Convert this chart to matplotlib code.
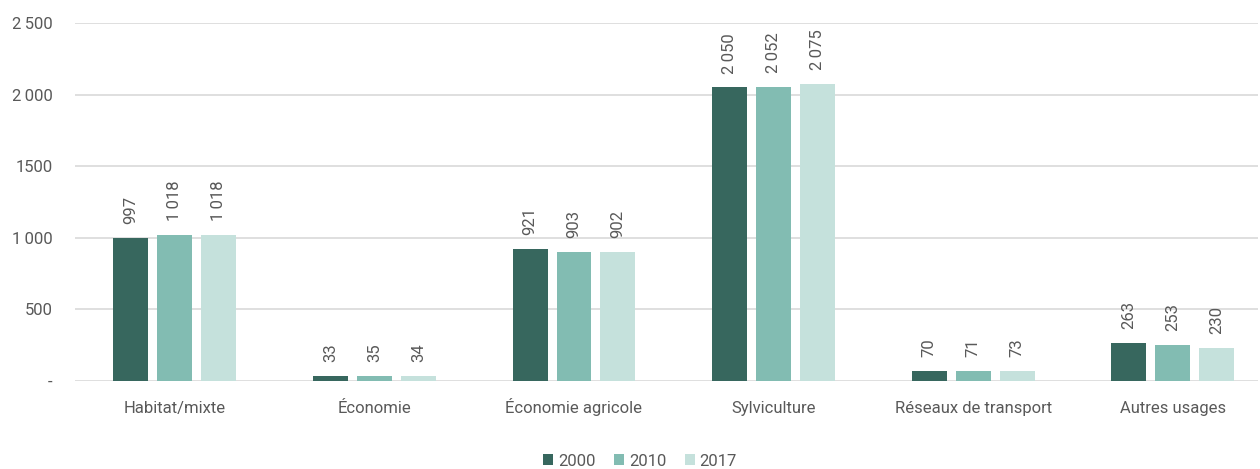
import matplotlib.pyplot as plt
import numpy as np

plt.rcParams['font.family'] = ['Roboto', 'DejaVu Sans']

categories = ["Habitat/mixte", "Économie", "Économie agricole", "Sylviculture",
              "Réseaux de transport", "Autres usages"]
years = ["2000", "2010", "2017"]
v2000 = [997, 33, 921, 2050, 70, 263]
v2010 = [1018, 35, 903, 2052, 71, 253]
v2017 = [1018, 34, 902, 2075, 73, 230]
yticks = [0, 500, 1000, 1500, 2000, 2500]
ytick_labels = ["-", "500", "1\u2009000", "1500", "2\u2009000", "2\u2009500"]

colors = ["#37675E", "#82BCB2", "#C5E1DC"]
txt = "#595959"


def fmt(v):
    if v >= 1000:
        return f"{v // 1000}\u2009{v % 1000:03d}"
    return str(v)


fig = plt.figure(figsize=(12.6, 4.69), dpi=100)
ax = fig.add_axes([75 / 1260, 1 - 381 / 469, (1258 - 75) / 1260, 358 / 469])

x = np.arange(len(categories))
width = 0.175
offsets = [-0.22, 0, 0.22]
for vals, yr, c, off in zip([v2000, v2010, v2017], years, colors, offsets):
    bars = ax.bar(x + off, vals, width, color=c, label=yr, zorder=3)
    for b, v in zip(bars, vals):
        ax.annotate(fmt(v), (b.get_x() + b.get_width() / 2, v), xytext=(0, 10),
                    textcoords="offset points", rotation=90, ha="center", va="bottom",
                    fontsize=12, color=txt)

ax.set_xlim(-0.5, 5.427)
ax.set_ylim(0, 2500)
ax.set_yticks(yticks)
ax.set_yticklabels(ytick_labels)
ax.set_xticks(x)
ax.set_xticklabels(categories, va="baseline")
ax.grid(axis="y", color="#D9D9D9", linewidth=1.2, zorder=0)
for s in ax.spines.values():
    s.set_visible(False)
ax.tick_params(axis="both", length=0, labelsize=12, labelcolor=txt)
ax.tick_params(axis="y", pad=16)
ax.tick_params(axis="x", pad=23)

ax.legend(loc="center", bbox_to_anchor=((640 - 75) / 1183, -80 / 358), ncol=3, frameon=False,
          fontsize=12, labelcolor=txt, handlelength=0.6, handleheight=0.6,
          handletextpad=0.3, columnspacing=1.1)

fig.savefig("out.png")
